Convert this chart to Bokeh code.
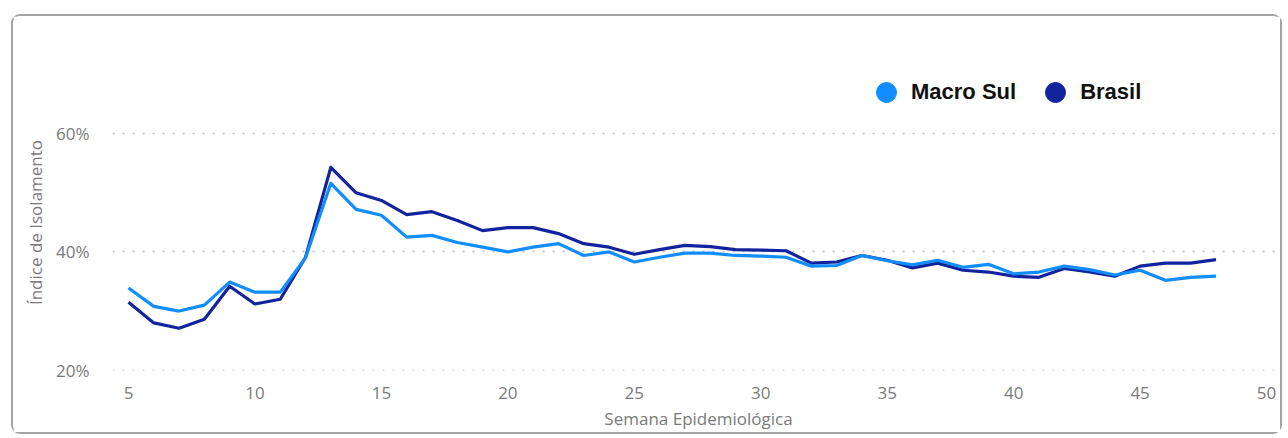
import math
from bokeh.plotting import figure
from bokeh.models import (Range1d, FixedTicker, PrintfTickFormatter, Legend,
                          LegendItem, ColumnDataSource, Title)
from bokeh.embed import file_html
from bokeh.resources import INLINE

# ---- data -------------------------------------------------------------
weeks = list(range(5, 49))
macro_sul = [33.9, 30.8, 30.0, 31.0, 34.9, 33.2, 33.2, 39.0, 51.6, 47.2,
             46.2, 42.5, 42.8, 41.6, 40.8, 40.0, 40.8, 41.4, 39.4, 40.0,
             38.3, 39.1, 39.8, 39.8, 39.4, 39.3, 39.1, 37.6, 37.7, 39.4,
             38.5, 37.8, 38.6, 37.4, 37.9, 36.3, 36.6, 37.6, 37.0, 36.1,
             36.9, 35.2, 35.7, 35.9]
brasil = [31.5, 28.0, 27.1, 28.6, 34.2, 31.2, 32.0, 39.1, 54.3, 50.0,
          48.7, 46.3, 46.8, 45.3, 43.6, 44.1, 44.1, 43.1, 41.4, 40.8,
          39.6, 40.4, 41.1, 40.9, 40.4, 40.3, 40.2, 38.1, 38.3, 39.4,
          38.6, 37.3, 38.1, 36.9, 36.6, 35.9, 35.7, 37.2, 36.6, 35.9,
          37.6, 38.1, 38.1, 38.7]
series_names = ["Macro Sul", "Brasil"]
x_ticks = [5, 10, 15, 20, 25, 30, 35, 40, 45, 50]
y_ticks = [20, 40, 60]

C_MACRO = "#118DFF"
C_BRASIL = "#12239E"
TXT = "#7a7a7a"
FONT = "Open Sans"

src = ColumnDataSource(dict(week=weeks, macro=macro_sul, brasil=brasil,
                            hidden=[math.nan] * len(weeks)))

p = figure(width=1271, height=420, output_backend="svg", toolbar_location=None,
           x_range=Range1d(4.367, 50.71), y_range=Range1d(19.95, 70.0),
           min_border_left=99, min_border_right=0, min_border_top=58,
           min_border_bottom=66)
p.styles = {"border": "2px solid #a3a3a3", "border-radius": "9px",
            "margin-left": "11px", "margin-top": "14px"}
p.outline_line_color = None
p.background_fill_color = "white"
p.border_fill_color = "white"

rb = p.line("week", "brasil", source=src, color=C_BRASIL, line_width=3.2,
            line_join="round")
rm = p.line("week", "macro", source=src, color=C_MACRO, line_width=3.2,
            line_join="round")

# legend markers: scatter renderers whose y values are NaN (nothing drawn)
lm = p.scatter("week", "hidden", source=src, size=20, color=C_MACRO,
               marker="circle")
lb = p.scatter("week", "hidden", source=src, size=20, color=C_BRASIL,
               marker="circle")
legend = Legend(items=[LegendItem(label=series_names[0], renderers=[lm]),
                       LegendItem(label=series_names[1], renderers=[lb])],
                orientation="horizontal", location=(749, 253),
                glyph_width=50, glyph_height=50, label_height=50,
                label_standoff=0, spacing=14, padding=0, margin=0,
                border_line_color=None, background_fill_alpha=0,
                label_text_font="Liberation Sans",
                label_text_font_style="bold", label_text_font_size="22px",
                label_text_color="#111111")
p.add_layout(legend, "center")

# axes
p.xaxis.ticker = FixedTicker(ticks=x_ticks)
p.yaxis.ticker = FixedTicker(ticks=y_ticks)
p.yaxis.formatter = PrintfTickFormatter(format="%d%%")
for ax in (p.xaxis[0], p.yaxis[0]):
    ax.axis_line_color = None
    ax.major_tick_line_color = None
    ax.minor_tick_line_color = None
    ax.major_label_text_font = FONT
    ax.major_label_text_font_size = "17px"
    ax.major_label_text_color = TXT
    ax.axis_label_text_font = FONT
    ax.axis_label_text_font_size = "17px"
    ax.axis_label_text_color = TXT
    ax.axis_label_text_font_style = "normal"
p.xaxis.axis_label = "Semana Epidemiológica"
p.xaxis.major_label_standoff = 10
p.xaxis.axis_label_standoff = 5
p.yaxis.major_label_standoff = 17

ytitle = Title(text="Índice de Isolamento", align="center", offset=-30,
               standoff=14, text_font=FONT, text_font_size="17px",
               text_font_style="normal", text_color=TXT)
p.add_layout(ytitle, "left")

p.xgrid.grid_line_color = None
p.ygrid.grid_line_color = "#bdbdbd"
p.ygrid.grid_line_dash = "2 8"
p.ygrid.grid_line_width = 1.5

open("out.html", "w").write(file_html(p, INLINE))
